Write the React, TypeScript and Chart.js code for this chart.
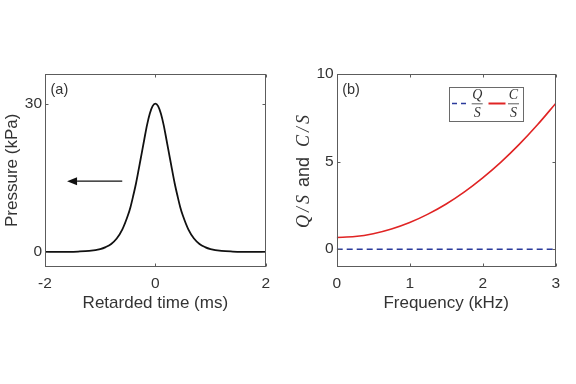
import React, { useEffect, useRef } from 'react';
import { Chart, registerables } from 'chart.js';

Chart.register(...registerables);

// ---------- data ----------
// Panel (a): pressure pulse
const timeMs = [
  -2, -1.8, -1.6, -1.4, -1.2, -1.0, -0.9, -0.8, -0.7, -0.6, -0.5, -0.45, -0.4, -0.35, -0.3, -0.25, -0.2, -0.15, -0.1, -0.05,
  0, 0.05, 0.1, 0.15, 0.2, 0.25, 0.3, 0.35, 0.4, 0.45, 0.5, 0.6, 0.7, 0.8, 0.9, 1.0, 1.2, 1.4, 1.6, 1.8, 2,
];
const pressureKPa = [
  0.0, 0.01, 0.02, 0.07, 0.2, 0.57, 0.97, 1.6, 2.7, 4.5, 7.3, 9.1, 11.4, 13.9, 16.8, 19.8, 22.8, 25.7, 28.0, 29.5,
  30.0, 29.5, 28.0, 25.7, 22.8, 19.8, 16.8, 13.9, 11.4, 9.1, 7.3, 4.5, 2.7, 1.6, 0.97, 0.57, 0.2, 0.07, 0.02, 0.01, 0.0,
];
const timeTicks = [-2, 0, 2];
const pressureTicks = [0, 30];
// arrow annotation (data units: ms, kPa)
const arrowTail = [-0.6, 14.3];
const arrowHead = [-1.6, 14.3];

// Panel (b): Q/S and C/S vs frequency
const freqKHz = [0, 0.25, 0.5, 0.75, 1.0, 1.25, 1.5, 1.75, 2.0, 2.25, 2.5, 2.75, 3.0];
const qOverS = [0, 0, 0, 0, 0, 0, 0, 0, 0, 0, 0, 0, 0];
const cOverS = [0.67, 0.72, 0.88, 1.15, 1.52, 2.0, 2.58, 3.27, 4.07, 4.97, 5.98, 7.1, 8.32];
const freqTicks = [0, 1, 2, 3];
const ratioTicks = [0, 5, 10];

// ---------- styles ----------
const TEXT = '#333333';
const AXIS = '#5c5c5c';
const BLUE = '#2b3b9c';
const RED = '#e02424';
const SANS = '"Liberation Sans", Arial, Helvetica, sans-serif';
const SERIF = '"Liberation Serif", "Times New Roman", serif';

Chart.defaults.font.family = SANS;

function xScale(min: number, max: number, ticks: number[], title: string) {
  return {
    type: 'linear',
    min,
    max,
    afterBuildTicks: (s: any) => {
      s.ticks = ticks.map((v) => ({ value: v }));
    },
    afterFit: (s: any) => {
      s.height = 46.8;
    },
    grid: { display: false, drawTicks: false },
    border: { display: false },
    ticks: {
      padding: 7.3,
      color: TEXT,
      font: { size: 15.5 },
      maxRotation: 0,
      autoSkip: false,
      callback: (v: any) => String(v),
    },
    title: { display: true, text: title, color: TEXT, font: { size: 17 }, padding: 0 },
  };
}

function yScale(min: number, max: number, ticks: number[], width: number, title: string | null) {
  return {
    type: 'linear',
    min,
    max,
    afterBuildTicks: (s: any) => {
      s.ticks = ticks.map((v) => ({ value: v }));
    },
    afterFit: (s: any) => {
      s.width = width;
    },
    grid: { display: false, drawTicks: false },
    border: { display: false },
    ticks: {
      padding: 3,
      color: TEXT,
      font: { size: 15.5 },
      autoSkip: false,
      callback: (v: any) => String(v),
    },
    title: {
      display: title !== null,
      text: title || '',
      color: TEXT,
      font: { size: 17 },
      padding: { top: 2.3, bottom: 0 },
    },
  };
}

function framePlugin(label: string) {
  return {
    id: 'frame' + label,
    afterDatasetsDraw(chart: any) {
      const { ctx, chartArea: a, scales } = chart;
      const L = Math.round(a.left) + 0.5;
      const T = Math.round(a.top) + 0.5;
      const R = Math.round(a.right) - 0.5;
      const B = Math.round(a.bottom) - 0.5;
      ctx.save();
      ctx.strokeStyle = AXIS;
      ctx.lineWidth = 1;
      ctx.strokeRect(L, T, R - L, B - T);
      ctx.beginPath();
      const x = scales.x;
      const y = scales.y;
      x.ticks.forEach((t: any) => {
        const px = Math.round(x.getPixelForValue(t.value)) + 0.5;
        ctx.moveTo(px, B);
        ctx.lineTo(px, B - 3);
        ctx.moveTo(px, T);
        ctx.lineTo(px, T + 3);
      });
      y.ticks.forEach((t: any) => {
        const py = Math.round(y.getPixelForValue(t.value)) + 0.5;
        ctx.moveTo(L, py);
        ctx.lineTo(L + 3, py);
        ctx.moveTo(R, py);
        ctx.lineTo(R - 3, py);
      });
      ctx.stroke();
      ctx.fillStyle = TEXT;
      ctx.font = `14.5px ${SANS}`;
      ctx.textBaseline = 'middle';
      ctx.textAlign = 'left';
      ctx.fillText(label, a.left + 5.5, a.top + 16);
      ctx.restore();
    },
  };
}

const arrowPlugin = {
  id: 'arrow',
  afterDatasetsDraw(chart: any) {
    const { ctx, scales } = chart;
    const x0 = scales.x.getPixelForValue(arrowTail[0]);
    const y0 = scales.y.getPixelForValue(arrowTail[1]);
    const x1 = scales.x.getPixelForValue(arrowHead[0]);
    const y1 = scales.y.getPixelForValue(arrowHead[1]);
    const headLen = 10;
    const halfW = 4;
    ctx.save();
    ctx.strokeStyle = '#111111';
    ctx.fillStyle = '#111111';
    ctx.lineWidth = 1.3;
    ctx.beginPath();
    ctx.moveTo(x0, y0);
    ctx.lineTo(x1 + headLen, y1);
    ctx.stroke();
    ctx.beginPath();
    ctx.moveTo(x1, y1);
    ctx.lineTo(x1 + headLen, y1 - halfW);
    ctx.lineTo(x1 + headLen, y1 + halfW);
    ctx.closePath();
    ctx.fill();
    ctx.restore();
  },
};

const rightDecorPlugin = {
  id: 'rightDecor',
  afterDatasetsDraw(chart: any) {
    const { ctx, chartArea: a } = chart;
    const ds = chart.data.datasets;
    ctx.save();
    // y-axis title with math variables
    const cy = (a.top + a.bottom) / 2;
    ctx.translate(16.5, cy);
    ctx.rotate(-Math.PI / 2);
    ctx.fillStyle = TEXT;
    ctx.textBaseline = 'middle';
    ctx.textAlign = 'center';
    ctx.font = `italic 18px ${SERIF}`;
    (ctx as any).letterSpacing = '3px';
    ctx.fillText(ds[0].label, -39.7, 0);
    ctx.fillText(ds[1].label, 40.9, 0);
    (ctx as any).letterSpacing = '0px';
    ctx.font = `18px ${SANS}`;
    ctx.fillText('and', -1.6, 0);
    ctx.restore();

    // legend box
    ctx.save();
    const bx = Math.round(a.right - 106.7) + 0.5;
    const by = Math.round(a.top + 12.5) + 0.5;
    const bw = 74;
    const bh = 34;
    ctx.fillStyle = '#ffffff';
    ctx.fillRect(bx, by, bw, bh);
    ctx.strokeStyle = '#6a6a6a';
    ctx.lineWidth = 1;
    ctx.strokeRect(bx, by, bw, bh);
    const my = by + 16;
    const frac = (label: string, cx: number) => {
      const [num, den] = label.split('/');
      ctx.fillStyle = TEXT;
      ctx.font = `italic 14px ${SERIF}`;
      ctx.textAlign = 'center';
      ctx.textBaseline = 'middle';
      ctx.fillText(num, cx, by + 8);
      ctx.fillText(den, cx, by + 25.5);
      ctx.beginPath();
      ctx.strokeStyle = TEXT;
      ctx.lineWidth = 0.8;
      ctx.setLineDash([]);
      ctx.moveTo(cx - 5.5, my + 0.3);
      ctx.lineTo(cx + 5.5, my + 0.3);
      ctx.stroke();
    };
    // Q/S sample (blue dashed)
    ctx.beginPath();
    ctx.strokeStyle = BLUE;
    ctx.lineWidth = 1.6;
    ctx.setLineDash([5, 4]);
    ctx.moveTo(bx + 2.5, my);
    ctx.lineTo(bx + 18, my);
    ctx.stroke();
    frac(ds[0].label, bx + 27.7);
    // C/S sample (red solid)
    ctx.beginPath();
    ctx.strokeStyle = RED;
    ctx.lineWidth = 2;
    ctx.setLineDash([]);
    ctx.moveTo(bx + 39, my);
    ctx.lineTo(bx + 56, my);
    ctx.stroke();
    frac(ds[1].label, bx + 64);
    ctx.restore();
  },
};

function leftConfig(): any {
  return {
    type: 'line',
    data: {
      datasets: [
        {
          label: 'Pressure',
          data: timeMs.map((t, i) => ({ x: t, y: pressureKPa[i] })),
          borderColor: '#111111',
          borderWidth: 1.8,
          pointRadius: 0,
          cubicInterpolationMode: 'monotone',
          fill: false,
        },
      ],
    },
    options: {
      responsive: false,
      animation: false,
      layout: { padding: { left: 0, top: 74, right: 22.3, bottom: 70.5 } },
      plugins: { legend: { display: false }, tooltip: { enabled: false } },
      scales: {
        x: xScale(-2, 2, timeTicks, 'Retarded time (ms)'),
        y: yScale(-3, 36, pressureTicks, 45, 'Pressure (kPa)'),
      },
    },
    plugins: [framePlugin('(a)'), arrowPlugin],
  };
}

function rightConfig(): any {
  return {
    type: 'line',
    data: {
      datasets: [
        {
          label: 'Q/S',
          data: freqKHz.map((f, i) => ({ x: f, y: qOverS[i] })),
          borderColor: BLUE,
          borderWidth: 1.6,
          borderDash: [6, 4],
          pointRadius: 0,
          fill: false,
        },
        {
          label: 'C/S',
          data: freqKHz.map((f, i) => ({ x: f, y: cOverS[i] })),
          borderColor: RED,
          borderWidth: 1.6,
          pointRadius: 0,
          cubicInterpolationMode: 'monotone',
          fill: false,
        },
      ],
    },
    options: {
      responsive: false,
      animation: false,
      layout: { padding: { left: 0, top: 74, right: 20.3, bottom: 70.5 } },
      plugins: { legend: { display: false }, tooltip: { enabled: false } },
      scales: {
        x: xScale(0, 3, freqTicks, 'Frequency (kHz)'),
        y: yScale(-1, 10, ratioTicks, 48.7, null),
      },
    },
    plugins: [framePlugin('(b)'), rightDecorPlugin],
  };
}

export default function App() {
  const leftRef = useRef<HTMLCanvasElement>(null);
  const rightRef = useRef<HTMLCanvasElement>(null);
  useEffect(() => {
    const c1 = new Chart(leftRef.current as HTMLCanvasElement, leftConfig());
    const c2 = new Chart(rightRef.current as HTMLCanvasElement, rightConfig());
    return () => {
      c1.destroy();
      c2.destroy();
    };
  }, []);
  return (
    <div style={{ position: 'fixed', left: 0, top: 0, width: 576, height: 384, background: '#ffffff' }}>
      <div style={{ position: 'absolute', left: 0, top: 0, width: 288, height: 384 }}>
        <canvas ref={leftRef} width={288} height={384} style={{ display: 'block', width: 288, height: 384 }} />
      </div>
      <div style={{ position: 'absolute', left: 288, top: 0, width: 288, height: 384 }}>
        <canvas ref={rightRef} width={288} height={384} style={{ display: 'block', width: 288, height: 384 }} />
      </div>
    </div>
  );
}
